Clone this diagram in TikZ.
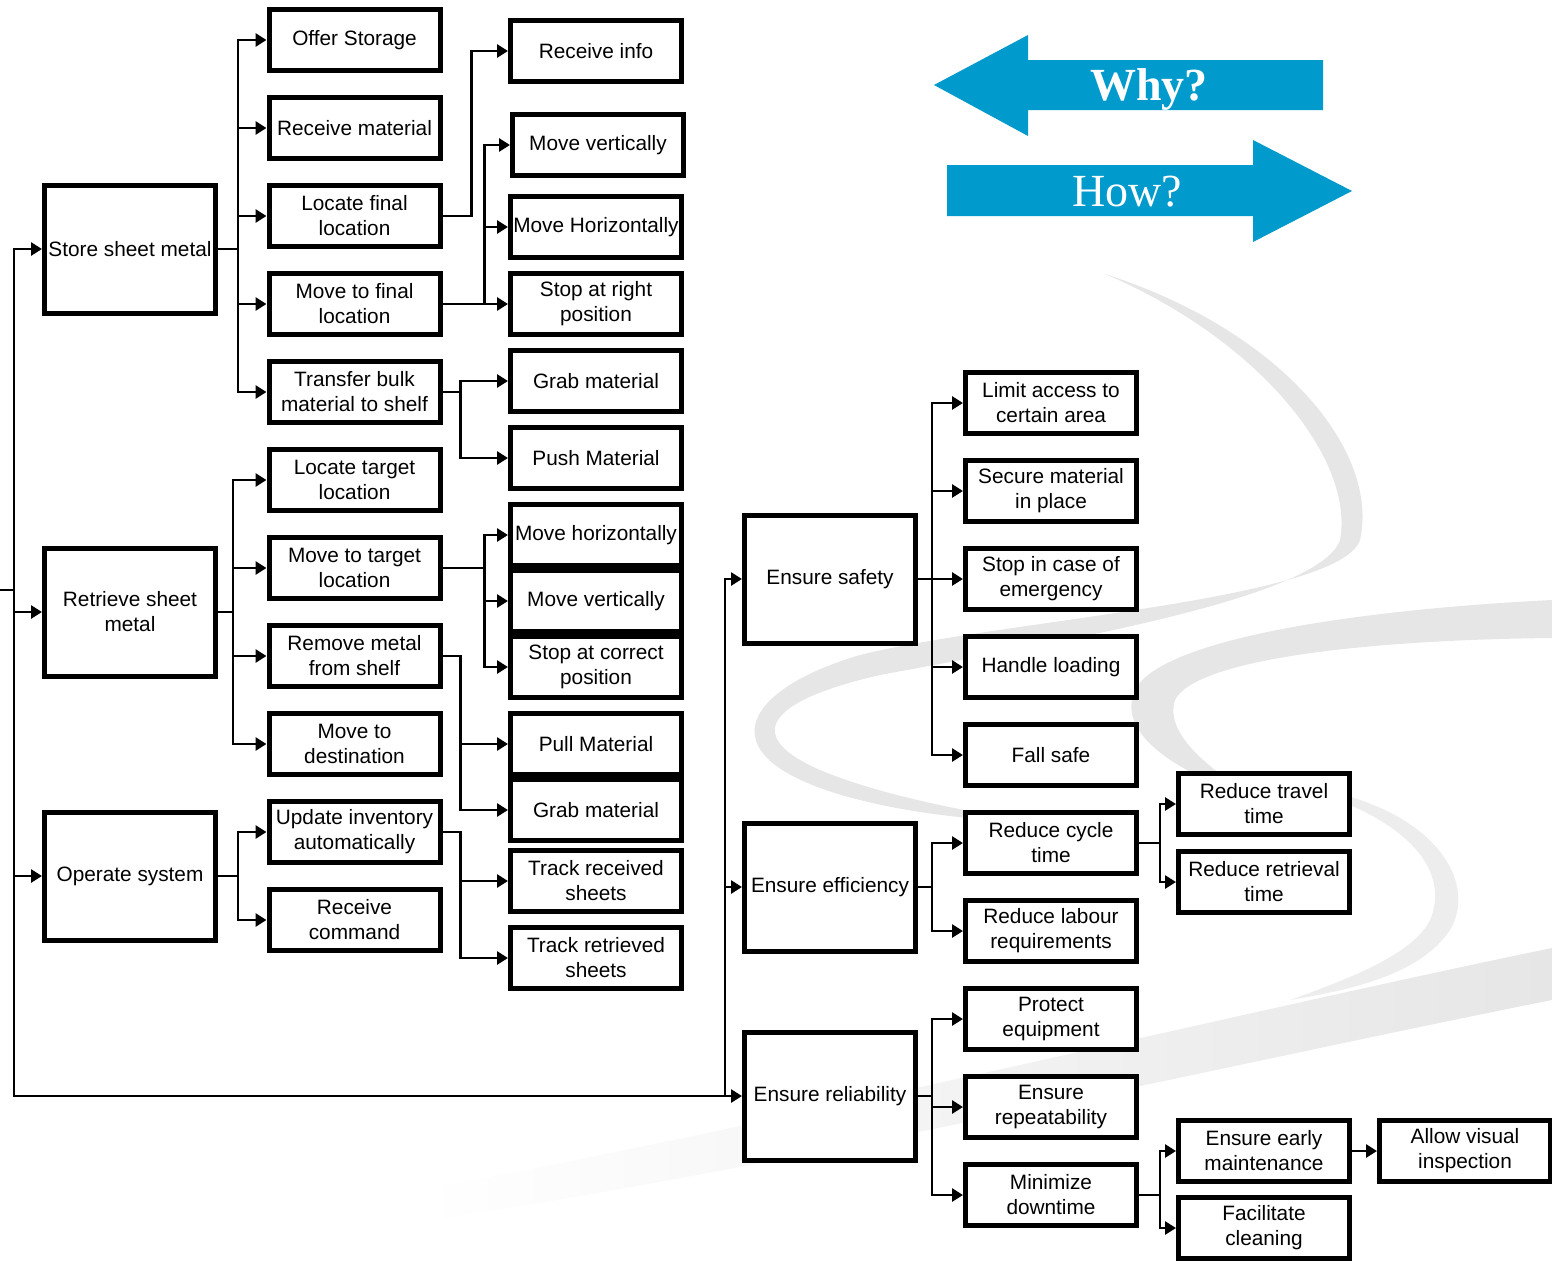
\documentclass[tikz,border=0pt]{standalone}
\usepackage{fontspec}
\setmainfont{Liberation Sans}
\newfontfamily\bannerfont{Liberation Serif}
\usetikzlibrary{arrows.meta,calc}
\definecolor{bannerblue}{HTML}{009BCC}
\definecolor{swoosh}{HTML}{E6E6E6}

\tikzset{
  fbox/.style={draw, fill=white, line width=2.5pt, minimum width=85.5pt, minimum height=30.5pt,
    inner sep=1pt, align=center, font=\fontsize{10.4}{12.5}\selectfont},
  bigbox/.style={fbox, minimum height=64pt},
  link/.style={line width=1.4pt},
  arr/.style={link, -{Triangle[length=5.5pt,width=6.5pt]}},
  banner/.style={text=white, font=\bannerfont\fontsize{23}{26}\selectfont, anchor=base},
}

\begin{document}
\begin{tikzpicture}[x=0.5pt,y=-0.5pt]
    \useasboundingbox (0,0) rectangle (1552,1264);

    % background swoosh
    \fill[swoosh] (1105,274) .. controls (1280,330) and (1380,450) .. (1360,540)
        .. controls (1340,600) and (1000,620) .. (860,655)
        .. controls (740,690) and (700,760) .. (860,800)
        .. controls (920,815) and (980,820) .. (1030,822)
        .. controls (960,810) and (880,795) .. (820,770)
        .. controls (740,735) and (770,700) .. (880,675)
        .. controls (1040,645) and (1320,600) .. (1340,540)
        .. controls (1355,460) and (1260,340) .. (1105,274) -- cycle;
    \fill[swoosh] (1552,600) .. controls (1350,610) and (1160,640) .. (1135,690)
        .. controls (1115,735) and (1180,775) .. (1260,800)
        .. controls (1200,765) and (1165,730) .. (1175,700)
        .. controls (1195,660) and (1360,640) .. (1552,638) -- cycle;
    \fill[swoosh!70] (1290,785) .. controls (1430,800) and (1480,880) .. (1450,930)
        .. controls (1420,975) and (1350,990) .. (1290,1000)
        .. controls (1360,975) and (1420,950) .. (1432,915)
        .. controls (1450,860) and (1390,810) .. (1290,785) -- cycle;
    \shade[left color=white, right color=swoosh] (1552,948) .. controls (1250,1010) and (800,1120) .. (420,1190)
        -- (420,1222) .. controls (800,1165) and (1250,1060) .. (1552,1000) -- cycle;

    % Why / How banners
    \fill[bannerblue] (934,85) -- (1028,35) -- (1028,60) -- (1323,60) -- (1323,110)
        -- (1028,110) -- (1028,136) -- cycle;
    \fill[bannerblue] (947,165) -- (1253,165) -- (1253,140) -- (1352,191) -- (1253,242)
        -- (1253,216) -- (947,216) -- cycle;
    \node[banner, font=\bannerfont\bfseries\fontsize{23}{26}\selectfont] (whylbl) at (1149,100) {Why?};
    \node[banner] (howlbl) at (1127,206) {How?};

    % main functions
    \node[bigbox] (store) at (130,249) {Store sheet metal};
    \node[bigbox] (retrieve) at (130,612) {Retrieve sheet\\metal};
    \node[bigbox] (operate) at (130,876) {Operate system};

    % second level
    \node[fbox] (offer) at (354.5,40) {Offer Storage};
    \node[fbox] (recmat) at (354.5,128) {Receive material};
    \node[fbox] (locfinal) at (354.5,216) {Locate final\\location};
    \node[fbox] (movefinal) at (354.5,304) {Move to final\\location};
    \node[fbox] (transfer) at (354.5,392) {Transfer bulk\\material to shelf};
    \node[fbox] (loctarget) at (354.5,480) {Locate target\\location};
    \node[fbox] (movetarget) at (354.5,568) {Move to target\\location};
    \node[fbox] (remove) at (354.5,656) {Remove metal\\from shelf};
    \node[fbox] (movedest) at (354.5,744) {Move to\\destination};
    \node[fbox] (update) at (354.5,832) {Update inventory\\automatically};
    \node[fbox] (reccmd) at (354.5,920) {Receive\\command};

    % third level
    \node[fbox] (recinfo) at (596,51) {Receive info};
    \node[fbox] (movevert) at (598,145) {Move vertically};
    \node[fbox] (movehor) at (596,227) {Move Horizontally};
    \node[fbox] (stopright) at (596,304) {Stop at right\\position};
    \node[fbox] (grab) at (596,381) {Grab material};
    \node[fbox] (push) at (596,458) {Push Material};
    \node[fbox] (movehortwo) at (596,535) {Move horizontally};
    \node[fbox] (moverttwo) at (596,601) {Move vertically};
    \node[fbox] (stopcorrect) at (596,667) {Stop at correct\\position};
    \node[fbox] (pull) at (596,744) {Pull Material};
    \node[fbox] (grabtwo) at (596,810) {Grab material};
    \node[fbox] (trackrec) at (596,881) {Track received\\sheets};
    \node[fbox] (trackret) at (596,958) {Track retrieved\\sheets};

    % qualities
    \node[bigbox] (safety) at (830,579) {Ensure safety};
    \node[bigbox] (efficiency) at (830,887) {Ensure efficiency};
    \node[bigbox] (reliability) at (830,1096) {Ensure reliability};

    \node[fbox] (limit) at (1051,403) {Limit access to\\certain area};
    \node[fbox] (secure) at (1051,491) {Secure material\\in place};
    \node[fbox] (stopemerg) at (1051,579) {Stop in case of\\emergency};
    \node[fbox] (loading) at (1051,667) {Handle loading};
    \node[fbox] (fallsafe) at (1051,755) {Fall safe};
    \node[fbox] (cycle) at (1051,843) {Reduce cycle\\time};
    \node[fbox] (labour) at (1051,931) {Reduce labour\\requirements};
    \node[fbox] (protect) at (1051,1019) {Protect\\equipment};
    \node[fbox] (repeat) at (1051,1107) {Ensure\\repeatability};
    \node[fbox] (downtime) at (1051,1195) {Minimize\\downtime};

    \node[fbox] (travel) at (1264,804) {Reduce travel\\time};
    \node[fbox] (retrieval) at (1264,882) {Reduce retrieval\\time};
    \node[fbox] (early) at (1264,1151) {Ensure early\\maintenance};
    \node[fbox] (cleaning) at (1264,1228) {Facilitate\\cleaning};
    \node[fbox] (visual) at (1465,1151) {Allow visual\\inspection};

    % input feed
    \coordinate (feed) at (0,590);
    \coordinate (lbus) at (14,590);
    \coordinate (rbus) at (725,1096);
    \draw[link] (feed) -- (lbus);
    \draw[arr] (lbus) |- (store.west);
    \draw[arr] (lbus) |- (retrieve.west);
    \draw[arr] (lbus) |- (operate.west);
    \draw[arr] (lbus) |- (reliability.west);
    \draw[arr] (rbus) |- (safety.west);
    \draw[arr] (rbus) |- (efficiency.west);

    % store
    \draw[arr] (store.east) -- ++(20,0) |- (offer.west);
    \draw[arr] (store.east) -- ++(20,0) |- (recmat.west);
    \draw[arr] (store.east) -- ++(20,0) |- (locfinal.west);
    \draw[arr] (store.east) -- ++(20,0) |- (movefinal.west);
    \draw[arr] (store.east) -- ++(20,0) |- (transfer.west);
    \draw[arr] (locfinal.east) -- ++(29,0) |- (recinfo.west);
    \draw[arr] (movefinal.east) -- ++(42,0) |- (movevert.west);
    \draw[arr] (movefinal.east) -- ++(42,0) |- (movehor.west);
    \draw[arr] (movefinal.east) -- (stopright.west);
    \draw[arr] (transfer.east) -- ++(18,0) |- (grab.west);
    \draw[arr] (transfer.east) -- ++(18,0) |- (push.west);

    % retrieve
    \draw[arr] (retrieve.east) -- ++(15,0) |- (loctarget.west);
    \draw[arr] (retrieve.east) -- ++(15,0) |- (movetarget.west);
    \draw[arr] (retrieve.east) -- ++(15,0) |- (remove.west);
    \draw[arr] (retrieve.east) -- ++(15,0) |- (movedest.west);
    \draw[arr] (movetarget.east) -- ++(42,0) |- (movehortwo.west);
    \draw[arr] (movetarget.east) -- ++(42,0) |- (moverttwo.west);
    \draw[arr] (movetarget.east) -- ++(42,0) |- (stopcorrect.west);
    \draw[arr] (remove.east) -- ++(18,0) |- (pull.west);
    \draw[arr] (remove.east) -- ++(18,0) |- (grabtwo.west);

    % operate
    \draw[arr] (operate.east) -- ++(20,0) |- (update.west);
    \draw[arr] (operate.east) -- ++(20,0) |- (reccmd.west);
    \draw[arr] (update.east) -- ++(18,0) |- (trackrec.west);
    \draw[arr] (update.east) -- ++(18,0) |- (trackret.west);

    % safety
    \draw[arr] (safety.east) -- ++(14,0) |- (limit.west);
    \draw[arr] (safety.east) -- ++(14,0) |- (secure.west);
    \draw[arr] (safety.east) -- (stopemerg.west);
    \draw[arr] (safety.east) -- ++(14,0) |- (loading.west);
    \draw[arr] (safety.east) -- ++(14,0) |- (fallsafe.west);

    % efficiency
    \draw[arr] (efficiency.east) -- ++(14,0) |- (cycle.west);
    \draw[arr] (efficiency.east) -- ++(14,0) |- (labour.west);
    \draw[arr] (cycle.east) -- ++(21,0) |- (travel.west);
    \draw[arr] (cycle.east) -- ++(21,0) |- (retrieval.west);

    % reliability
    \draw[arr] (reliability.east) -- ++(14,0) |- (protect.west);
    \draw[arr] (reliability.east) -- ++(14,0) |- (repeat.west);
    \draw[arr] (reliability.east) -- ++(14,0) |- (downtime.west);
    \draw[arr] (downtime.east) -- ++(21,0) |- (early.west);
    \draw[arr] (downtime.east) -- ++(21,0) |- (cleaning.west);
    \draw[arr] (early) -- (visual);
\end{tikzpicture}
\end{document}
